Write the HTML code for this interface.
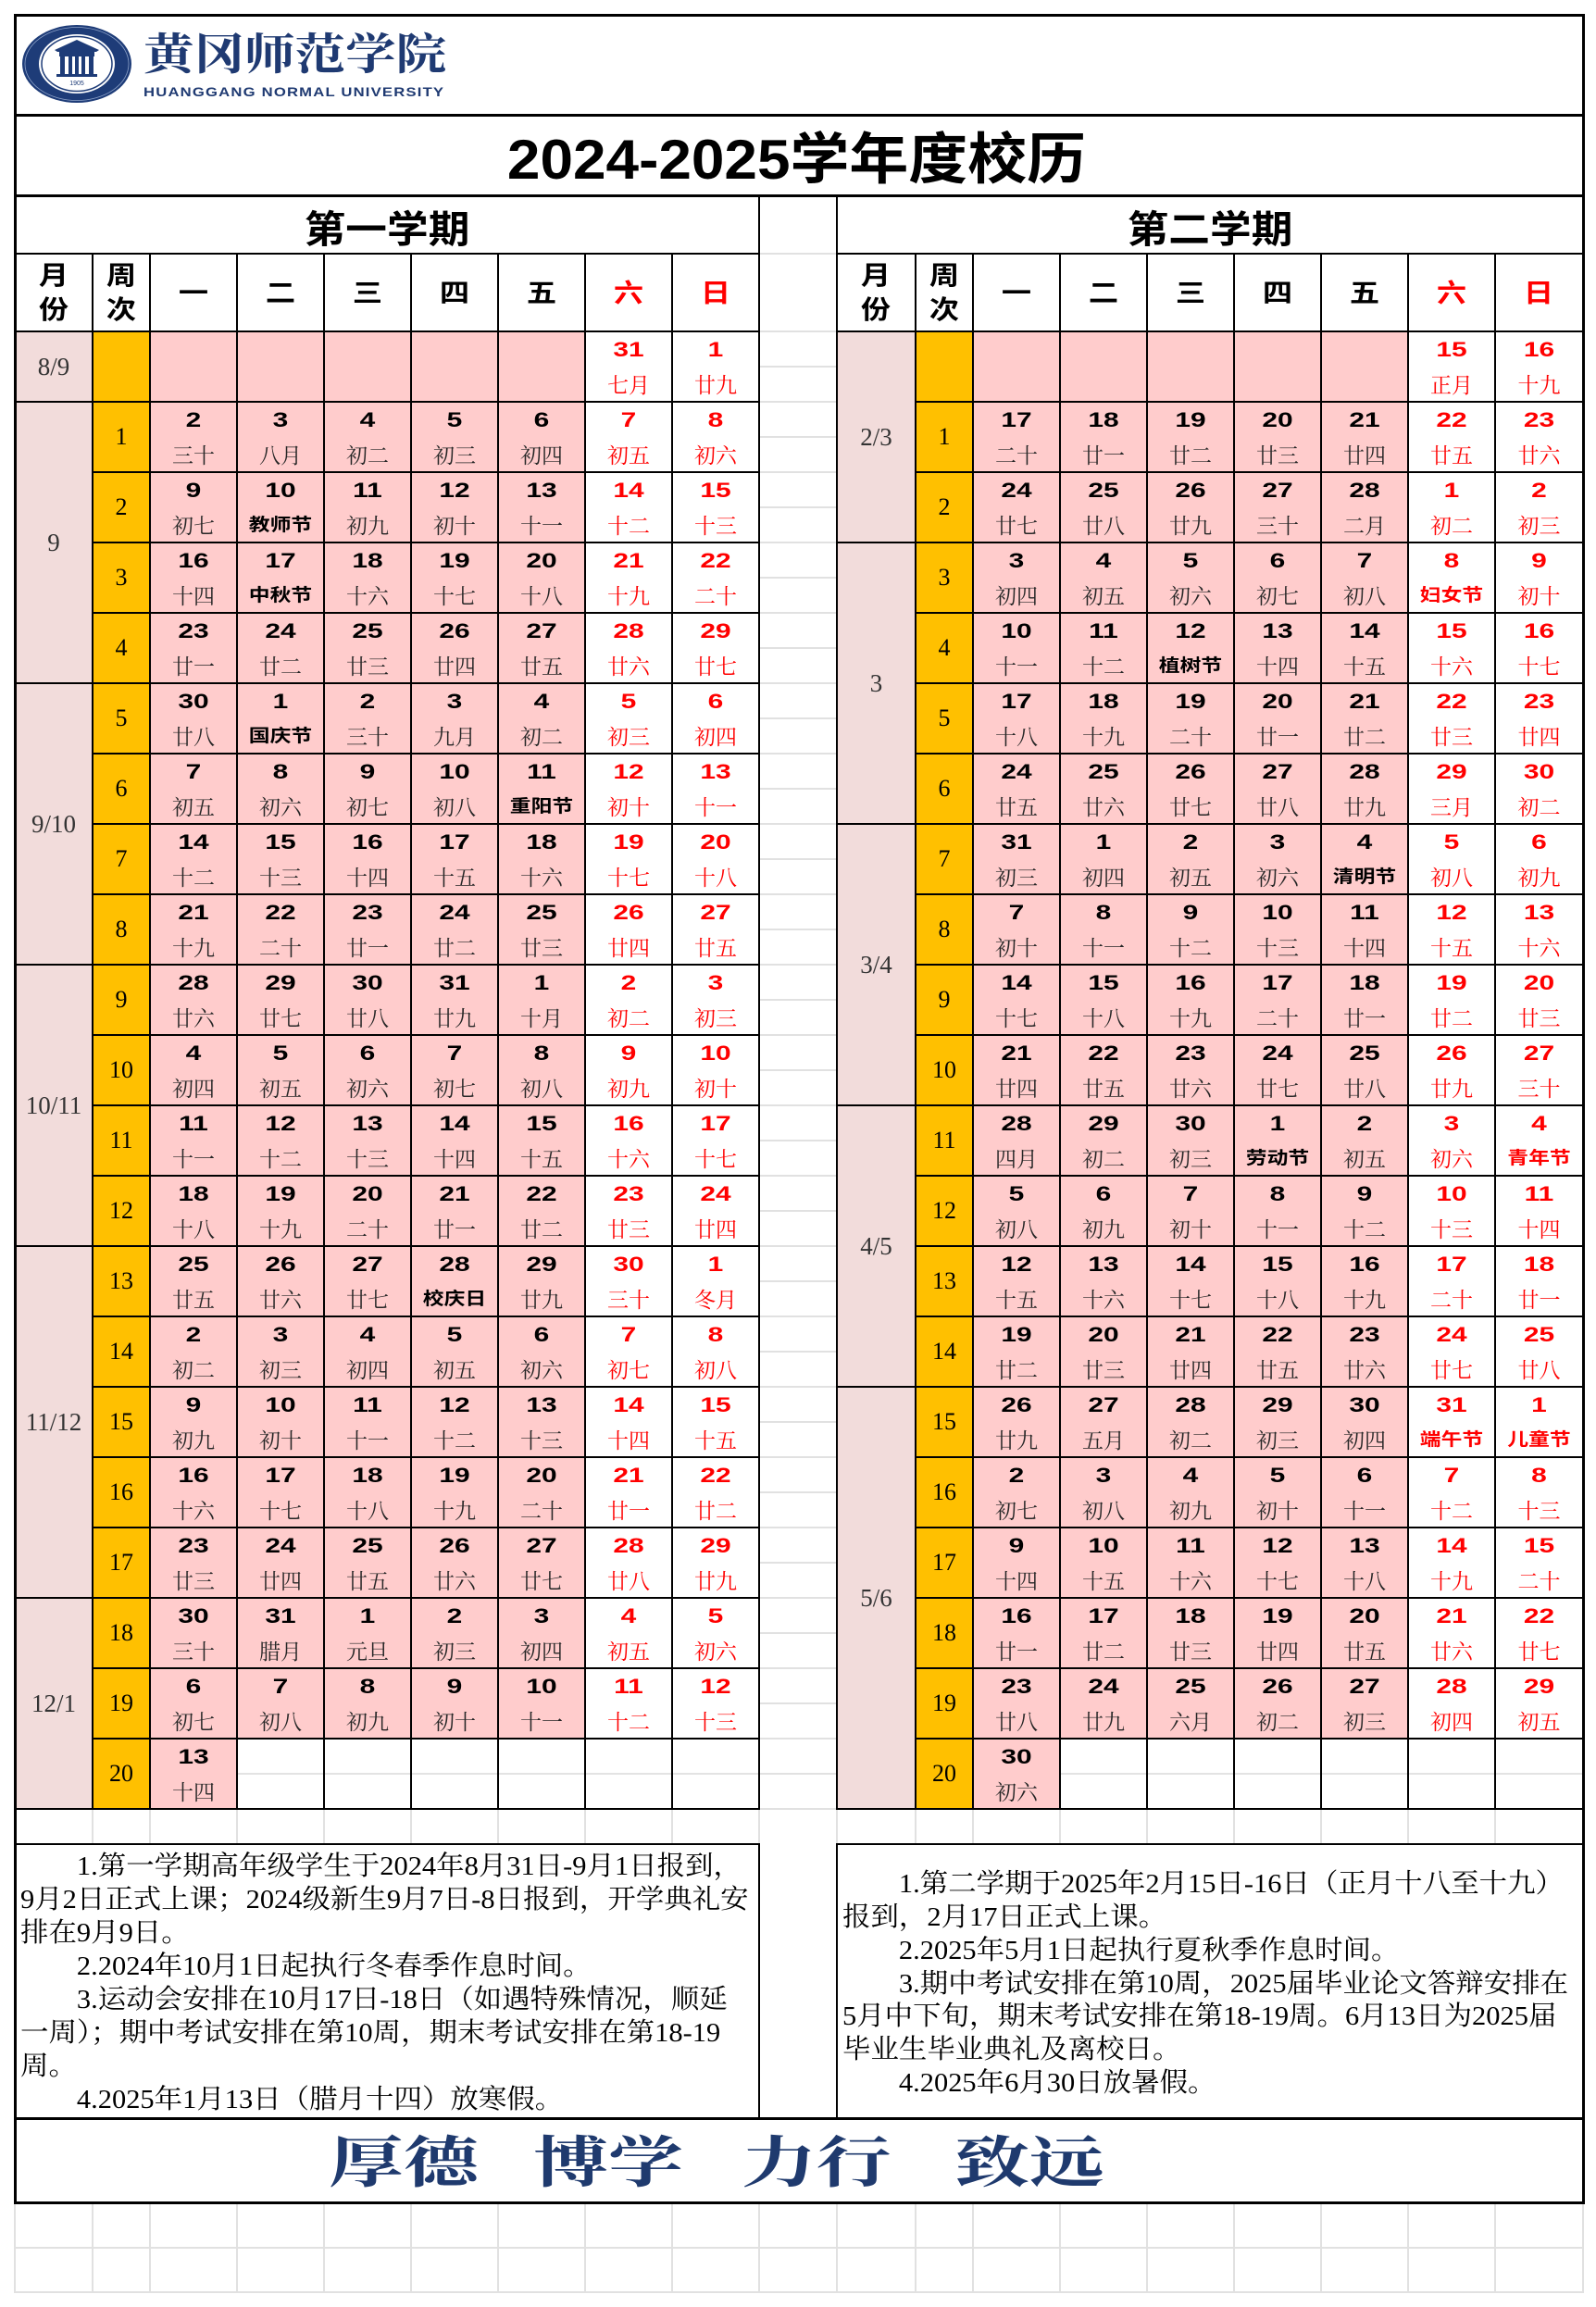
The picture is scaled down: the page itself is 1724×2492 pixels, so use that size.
<!DOCTYPE html>
<html><head><meta charset="utf-8">
<style>
*{margin:0;padding:0;box-sizing:border-box}
html,body{width:1724px;height:2492px;background:#fff;overflow:hidden}
body{position:relative;font-family:"Liberation Sans","Noto Sans CJK SC",sans-serif;color:#000}
.a{position:absolute;white-space:nowrap}
.k{position:absolute;background:#000}
.v{position:absolute;background:#e1e1e1}
.bx{position:absolute;border:2px solid #000}
.g{position:absolute;top:273px;display:grid;gap:2px;border:2px solid #000;background:#000;grid-template-rows:82px repeat(21,74px)}
.gl{left:15px;width:806px;grid-template-columns:82px 60px repeat(7,92px)}
.gr{left:903px;width:808px;grid-template-columns:83px 60px repeat(6,92px) 93px}
.g>div{background:#fff;position:relative}
.g>.p{background:#ffcccc}
.g>.e{background:linear-gradient(#fff 36px,#e3e3e3 36px,#e3e3e3 38px,#fff 38px)}
.g>.w{background:#ffc000;display:flex;align-items:center;justify-content:center;font:26px "Liberation Serif",serif}
.g>.m{background:#f2dcdb;grid-column:1;display:flex;align-items:center;justify-content:center;font:27px "Liberation Serif",serif;color:#333}
.g>.h{display:flex;align-items:center;justify-content:center;font:bold 28px/37px "Liberation Sans","Noto Sans CJK SC",sans-serif;text-align:center}
.h span{display:inline-block;transform:scaleX(1.15)}
.g>.hr{color:#f00}
.g b{position:absolute;left:0;right:0;top:6px;text-align:center;font:bold 22px/26px "Liberation Sans",sans-serif;transform:scaleX(1.36)}
.g i{position:absolute;left:0;right:0;top:45px;text-align:center;font:normal 23px/26px "Liberation Serif","Noto Serif CJK SC",serif;color:#262626}
.g i.f{top:44px;font:bold 19px/26px "Liberation Sans","Noto Sans CJK SC",sans-serif;color:#000;transform:scaleX(1.2)}
.g .r b,.g .r i{color:#f00}
.sem{position:absolute;top:227px;text-align:center;font:bold 41px/42px "Liberation Sans","Noto Sans CJK SC",sans-serif}
.sem span,.tt span,.mo span{display:inline-block}
.sem span{transform:scaleX(1.09)}
.n{position:absolute;white-space:nowrap;font:29px/36px "Liberation Serif","Noto Serif CJK SC",serif;transform:scaleX(1.05);transform-origin:0 50%}
.mo{position:absolute;top:2304px;width:220px;text-align:center;font:bold 60px/66px "Liberation Serif","Noto Serif CJK SC",serif;color:#1f3a6e}
.mo span{transform:scaleX(1.35)}
</style></head><body>

<!-- background gridlines -->
<div class="v" style="left:821px;top:273px;width:82px;height:2px"></div>
<div class="v" style="left:821px;top:357px;width:82px;height:1598px;background:repeating-linear-gradient(#e1e1e1 0 2px,transparent 2px 38px)"></div>
<div class="v" style="left:99px;top:1955px;width:2px;height:36px"></div>
<div class="v" style="left:161px;top:1955px;width:2px;height:36px"></div>
<div class="v" style="left:255px;top:1955px;width:2px;height:36px"></div>
<div class="v" style="left:349px;top:1955px;width:2px;height:36px"></div>
<div class="v" style="left:443px;top:1955px;width:2px;height:36px"></div>
<div class="v" style="left:537px;top:1955px;width:2px;height:36px"></div>
<div class="v" style="left:631px;top:1955px;width:2px;height:36px"></div>
<div class="v" style="left:725px;top:1955px;width:2px;height:36px"></div>
<div class="v" style="left:819px;top:1955px;width:2px;height:36px"></div>
<div class="v" style="left:903px;top:1955px;width:2px;height:36px"></div>
<div class="v" style="left:988px;top:1955px;width:2px;height:36px"></div>
<div class="v" style="left:1050px;top:1955px;width:2px;height:36px"></div>
<div class="v" style="left:1144px;top:1955px;width:2px;height:36px"></div>
<div class="v" style="left:1238px;top:1955px;width:2px;height:36px"></div>
<div class="v" style="left:1332px;top:1955px;width:2px;height:36px"></div>
<div class="v" style="left:1426px;top:1955px;width:2px;height:36px"></div>
<div class="v" style="left:1520px;top:1955px;width:2px;height:36px"></div>
<div class="v" style="left:1614px;top:1955px;width:2px;height:36px"></div>

<div class="v" style="left:15px;top:2427px;width:1696px;height:2px"></div>
<div class="v" style="left:15px;top:2475px;width:1696px;height:2px"></div>
<div class="v" style="left:15px;top:2381px;width:2px;height:96px"></div>
<div class="v" style="left:99px;top:2381px;width:2px;height:96px"></div>
<div class="v" style="left:161px;top:2381px;width:2px;height:96px"></div>
<div class="v" style="left:255px;top:2381px;width:2px;height:96px"></div>
<div class="v" style="left:349px;top:2381px;width:2px;height:96px"></div>
<div class="v" style="left:443px;top:2381px;width:2px;height:96px"></div>
<div class="v" style="left:537px;top:2381px;width:2px;height:96px"></div>
<div class="v" style="left:631px;top:2381px;width:2px;height:96px"></div>
<div class="v" style="left:725px;top:2381px;width:2px;height:96px"></div>
<div class="v" style="left:819px;top:2381px;width:2px;height:96px"></div>
<div class="v" style="left:903px;top:2381px;width:2px;height:96px"></div>
<div class="v" style="left:988px;top:2381px;width:2px;height:96px"></div>
<div class="v" style="left:1050px;top:2381px;width:2px;height:96px"></div>
<div class="v" style="left:1144px;top:2381px;width:2px;height:96px"></div>
<div class="v" style="left:1238px;top:2381px;width:2px;height:96px"></div>
<div class="v" style="left:1332px;top:2381px;width:2px;height:96px"></div>
<div class="v" style="left:1426px;top:2381px;width:2px;height:96px"></div>
<div class="v" style="left:1520px;top:2381px;width:2px;height:96px"></div>
<div class="v" style="left:1614px;top:2381px;width:2px;height:96px"></div>
<div class="v" style="left:1709px;top:2381px;width:2px;height:96px"></div>

<!-- logo -->
<svg class="a" style="left:22px;top:25px" width="122" height="88" viewBox="0 0 122 88">
<ellipse cx="61" cy="44" rx="59" ry="42" fill="#1e3c78"/>
<ellipse cx="61" cy="44" rx="56" ry="39.5" fill="none" stroke="#8da2c8" stroke-width="0.8"/>
<ellipse cx="61" cy="44" rx="41" ry="32" fill="#fff"/>
<ellipse cx="61" cy="44" rx="38" ry="29.5" fill="none" stroke="#1e3c78" stroke-width="1.5"/>
<path d="M37 29 L61 18 L85 29 L82 31 L40 31Z" fill="#1e3c78"/>
<rect x="42" y="31" width="38" height="5" fill="#1e3c78"/>
<rect x="43" y="36" width="5" height="20" fill="#1e3c78"/>
<rect x="52" y="36" width="4" height="20" fill="#1e3c78"/>
<rect x="59" y="36" width="4" height="20" fill="#1e3c78"/>
<rect x="66" y="36" width="4" height="20" fill="#1e3c78"/>
<rect x="74" y="36" width="5" height="20" fill="#1e3c78"/>
<rect x="39" y="55" width="44" height="3" fill="#1e3c78"/>
<text x="61" y="67" font-size="7" text-anchor="middle" fill="#1e3c78" font-family="Liberation Sans">1905</text>
</svg>
<div class="a" style="left:155px;top:35px;font:bold 47px/50px 'Liberation Serif','Noto Serif CJK SC',serif;color:#1f3a72;transform:scaleX(1.16);transform-origin:0 50%">黄冈师范学院</div>
<div class="a" style="left:155px;top:91px;font:bold 14px/16px 'Liberation Sans',sans-serif;letter-spacing:1px;color:#1f3a72;transform:scaleX(1.19);transform-origin:0 50%">HUANGGANG NORMAL UNIVERSITY</div>

<!-- title -->
<div class="a tt" style="left:0;width:1720px;top:143px;text-align:center;font:bold 60px/60px 'Liberation Sans','Noto Sans CJK SC',sans-serif"><span style="transform:scaleX(1.065)">2024-2025学年度校历</span></div>

<div class="sem" style="left:16px;width:804px"><span>第一学期</span></div>
<div class="sem" style="left:904px;width:806px"><span>第二学期</span></div>

<!-- left table -->
<div class="g gl">
<div class="m" style="grid-row:2">8/9</div>
<div class="m" style="grid-row:3/7">9</div>
<div class="m" style="grid-row:7/11">9/10</div>
<div class="m" style="grid-row:11/15">10/11</div>
<div class="m" style="grid-row:15/20">11/12</div>
<div class="m" style="grid-row:20/23">12/1</div>
<div class="h"><span>月<br>份</span></div><div class="h"><span>周<br>次</span></div><div class="h"><span>一</span></div><div class="h"><span>二</span></div><div class="h"><span>三</span></div><div class="h"><span>四</span></div><div class="h"><span>五</span></div><div class="h hr"><span>六</span></div><div class="h hr"><span>日</span></div>
<div class="w"></div><div class="p"></div><div class="p"></div><div class="p"></div><div class="p"></div><div class="p"></div><div class="r"><b>31</b><i>七月</i></div><div class="r"><b>1</b><i>廿九</i></div>
<div class="w">1</div><div class="p"><b>2</b><i>三十</i></div><div class="p"><b>3</b><i>八月</i></div><div class="p"><b>4</b><i>初二</i></div><div class="p"><b>5</b><i>初三</i></div><div class="p"><b>6</b><i>初四</i></div><div class="r"><b>7</b><i>初五</i></div><div class="r"><b>8</b><i>初六</i></div>
<div class="w">2</div><div class="p"><b>9</b><i>初七</i></div><div class="p"><b>10</b><i class="f">教师节</i></div><div class="p"><b>11</b><i>初九</i></div><div class="p"><b>12</b><i>初十</i></div><div class="p"><b>13</b><i>十一</i></div><div class="r"><b>14</b><i>十二</i></div><div class="r"><b>15</b><i>十三</i></div>
<div class="w">3</div><div class="p"><b>16</b><i>十四</i></div><div class="p"><b>17</b><i class="f">中秋节</i></div><div class="p"><b>18</b><i>十六</i></div><div class="p"><b>19</b><i>十七</i></div><div class="p"><b>20</b><i>十八</i></div><div class="r"><b>21</b><i>十九</i></div><div class="r"><b>22</b><i>二十</i></div>
<div class="w">4</div><div class="p"><b>23</b><i>廿一</i></div><div class="p"><b>24</b><i>廿二</i></div><div class="p"><b>25</b><i>廿三</i></div><div class="p"><b>26</b><i>廿四</i></div><div class="p"><b>27</b><i>廿五</i></div><div class="r"><b>28</b><i>廿六</i></div><div class="r"><b>29</b><i>廿七</i></div>
<div class="w">5</div><div class="p"><b>30</b><i>廿八</i></div><div class="p"><b>1</b><i class="f">国庆节</i></div><div class="p"><b>2</b><i>三十</i></div><div class="p"><b>3</b><i>九月</i></div><div class="p"><b>4</b><i>初二</i></div><div class="r"><b>5</b><i>初三</i></div><div class="r"><b>6</b><i>初四</i></div>
<div class="w">6</div><div class="p"><b>7</b><i>初五</i></div><div class="p"><b>8</b><i>初六</i></div><div class="p"><b>9</b><i>初七</i></div><div class="p"><b>10</b><i>初八</i></div><div class="p"><b>11</b><i class="f">重阳节</i></div><div class="r"><b>12</b><i>初十</i></div><div class="r"><b>13</b><i>十一</i></div>
<div class="w">7</div><div class="p"><b>14</b><i>十二</i></div><div class="p"><b>15</b><i>十三</i></div><div class="p"><b>16</b><i>十四</i></div><div class="p"><b>17</b><i>十五</i></div><div class="p"><b>18</b><i>十六</i></div><div class="r"><b>19</b><i>十七</i></div><div class="r"><b>20</b><i>十八</i></div>
<div class="w">8</div><div class="p"><b>21</b><i>十九</i></div><div class="p"><b>22</b><i>二十</i></div><div class="p"><b>23</b><i>廿一</i></div><div class="p"><b>24</b><i>廿二</i></div><div class="p"><b>25</b><i>廿三</i></div><div class="r"><b>26</b><i>廿四</i></div><div class="r"><b>27</b><i>廿五</i></div>
<div class="w">9</div><div class="p"><b>28</b><i>廿六</i></div><div class="p"><b>29</b><i>廿七</i></div><div class="p"><b>30</b><i>廿八</i></div><div class="p"><b>31</b><i>廿九</i></div><div class="p"><b>1</b><i>十月</i></div><div class="r"><b>2</b><i>初二</i></div><div class="r"><b>3</b><i>初三</i></div>
<div class="w">10</div><div class="p"><b>4</b><i>初四</i></div><div class="p"><b>5</b><i>初五</i></div><div class="p"><b>6</b><i>初六</i></div><div class="p"><b>7</b><i>初七</i></div><div class="p"><b>8</b><i>初八</i></div><div class="r"><b>9</b><i>初九</i></div><div class="r"><b>10</b><i>初十</i></div>
<div class="w">11</div><div class="p"><b>11</b><i>十一</i></div><div class="p"><b>12</b><i>十二</i></div><div class="p"><b>13</b><i>十三</i></div><div class="p"><b>14</b><i>十四</i></div><div class="p"><b>15</b><i>十五</i></div><div class="r"><b>16</b><i>十六</i></div><div class="r"><b>17</b><i>十七</i></div>
<div class="w">12</div><div class="p"><b>18</b><i>十八</i></div><div class="p"><b>19</b><i>十九</i></div><div class="p"><b>20</b><i>二十</i></div><div class="p"><b>21</b><i>廿一</i></div><div class="p"><b>22</b><i>廿二</i></div><div class="r"><b>23</b><i>廿三</i></div><div class="r"><b>24</b><i>廿四</i></div>
<div class="w">13</div><div class="p"><b>25</b><i>廿五</i></div><div class="p"><b>26</b><i>廿六</i></div><div class="p"><b>27</b><i>廿七</i></div><div class="p"><b>28</b><i class="f">校庆日</i></div><div class="p"><b>29</b><i>廿九</i></div><div class="r"><b>30</b><i>三十</i></div><div class="r"><b>1</b><i>冬月</i></div>
<div class="w">14</div><div class="p"><b>2</b><i>初二</i></div><div class="p"><b>3</b><i>初三</i></div><div class="p"><b>4</b><i>初四</i></div><div class="p"><b>5</b><i>初五</i></div><div class="p"><b>6</b><i>初六</i></div><div class="r"><b>7</b><i>初七</i></div><div class="r"><b>8</b><i>初八</i></div>
<div class="w">15</div><div class="p"><b>9</b><i>初九</i></div><div class="p"><b>10</b><i>初十</i></div><div class="p"><b>11</b><i>十一</i></div><div class="p"><b>12</b><i>十二</i></div><div class="p"><b>13</b><i>十三</i></div><div class="r"><b>14</b><i>十四</i></div><div class="r"><b>15</b><i>十五</i></div>
<div class="w">16</div><div class="p"><b>16</b><i>十六</i></div><div class="p"><b>17</b><i>十七</i></div><div class="p"><b>18</b><i>十八</i></div><div class="p"><b>19</b><i>十九</i></div><div class="p"><b>20</b><i>二十</i></div><div class="r"><b>21</b><i>廿一</i></div><div class="r"><b>22</b><i>廿二</i></div>
<div class="w">17</div><div class="p"><b>23</b><i>廿三</i></div><div class="p"><b>24</b><i>廿四</i></div><div class="p"><b>25</b><i>廿五</i></div><div class="p"><b>26</b><i>廿六</i></div><div class="p"><b>27</b><i>廿七</i></div><div class="r"><b>28</b><i>廿八</i></div><div class="r"><b>29</b><i>廿九</i></div>
<div class="w">18</div><div class="p"><b>30</b><i>三十</i></div><div class="p"><b>31</b><i>腊月</i></div><div class="p"><b>1</b><i>元旦</i></div><div class="p"><b>2</b><i>初三</i></div><div class="p"><b>3</b><i>初四</i></div><div class="r"><b>4</b><i>初五</i></div><div class="r"><b>5</b><i>初六</i></div>
<div class="w">19</div><div class="p"><b>6</b><i>初七</i></div><div class="p"><b>7</b><i>初八</i></div><div class="p"><b>8</b><i>初九</i></div><div class="p"><b>9</b><i>初十</i></div><div class="p"><b>10</b><i>十一</i></div><div class="r"><b>11</b><i>十二</i></div><div class="r"><b>12</b><i>十三</i></div>
<div class="w">20</div><div class="p"><b>13</b><i>十四</i></div><div class="e"></div><div class="e"></div><div class="e"></div><div class="e"></div><div class="e"></div><div class="e"></div>
</div>

<!-- right table -->
<div class="g gr">
<div class="m" style="grid-row:2/5">2/3</div>
<div class="m" style="grid-row:5/9">3</div>
<div class="m" style="grid-row:9/13">3/4</div>
<div class="m" style="grid-row:13/17">4/5</div>
<div class="m" style="grid-row:17/23">5/6</div>
<div class="h"><span>月<br>份</span></div><div class="h"><span>周<br>次</span></div><div class="h"><span>一</span></div><div class="h"><span>二</span></div><div class="h"><span>三</span></div><div class="h"><span>四</span></div><div class="h"><span>五</span></div><div class="h hr"><span>六</span></div><div class="h hr"><span>日</span></div>
<div class="w"></div><div class="p"></div><div class="p"></div><div class="p"></div><div class="p"></div><div class="p"></div><div class="r"><b>15</b><i>正月</i></div><div class="r"><b>16</b><i>十九</i></div>
<div class="w">1</div><div class="p"><b>17</b><i>二十</i></div><div class="p"><b>18</b><i>廿一</i></div><div class="p"><b>19</b><i>廿二</i></div><div class="p"><b>20</b><i>廿三</i></div><div class="p"><b>21</b><i>廿四</i></div><div class="r"><b>22</b><i>廿五</i></div><div class="r"><b>23</b><i>廿六</i></div>
<div class="w">2</div><div class="p"><b>24</b><i>廿七</i></div><div class="p"><b>25</b><i>廿八</i></div><div class="p"><b>26</b><i>廿九</i></div><div class="p"><b>27</b><i>三十</i></div><div class="p"><b>28</b><i>二月</i></div><div class="r"><b>1</b><i>初二</i></div><div class="r"><b>2</b><i>初三</i></div>
<div class="w">3</div><div class="p"><b>3</b><i>初四</i></div><div class="p"><b>4</b><i>初五</i></div><div class="p"><b>5</b><i>初六</i></div><div class="p"><b>6</b><i>初七</i></div><div class="p"><b>7</b><i>初八</i></div><div class="r"><b>8</b><i class="f">妇女节</i></div><div class="r"><b>9</b><i>初十</i></div>
<div class="w">4</div><div class="p"><b>10</b><i>十一</i></div><div class="p"><b>11</b><i>十二</i></div><div class="p"><b>12</b><i class="f">植树节</i></div><div class="p"><b>13</b><i>十四</i></div><div class="p"><b>14</b><i>十五</i></div><div class="r"><b>15</b><i>十六</i></div><div class="r"><b>16</b><i>十七</i></div>
<div class="w">5</div><div class="p"><b>17</b><i>十八</i></div><div class="p"><b>18</b><i>十九</i></div><div class="p"><b>19</b><i>二十</i></div><div class="p"><b>20</b><i>廿一</i></div><div class="p"><b>21</b><i>廿二</i></div><div class="r"><b>22</b><i>廿三</i></div><div class="r"><b>23</b><i>廿四</i></div>
<div class="w">6</div><div class="p"><b>24</b><i>廿五</i></div><div class="p"><b>25</b><i>廿六</i></div><div class="p"><b>26</b><i>廿七</i></div><div class="p"><b>27</b><i>廿八</i></div><div class="p"><b>28</b><i>廿九</i></div><div class="r"><b>29</b><i>三月</i></div><div class="r"><b>30</b><i>初二</i></div>
<div class="w">7</div><div class="p"><b>31</b><i>初三</i></div><div class="p"><b>1</b><i>初四</i></div><div class="p"><b>2</b><i>初五</i></div><div class="p"><b>3</b><i>初六</i></div><div class="p"><b>4</b><i class="f">清明节</i></div><div class="r"><b>5</b><i>初八</i></div><div class="r"><b>6</b><i>初九</i></div>
<div class="w">8</div><div class="p"><b>7</b><i>初十</i></div><div class="p"><b>8</b><i>十一</i></div><div class="p"><b>9</b><i>十二</i></div><div class="p"><b>10</b><i>十三</i></div><div class="p"><b>11</b><i>十四</i></div><div class="r"><b>12</b><i>十五</i></div><div class="r"><b>13</b><i>十六</i></div>
<div class="w">9</div><div class="p"><b>14</b><i>十七</i></div><div class="p"><b>15</b><i>十八</i></div><div class="p"><b>16</b><i>十九</i></div><div class="p"><b>17</b><i>二十</i></div><div class="p"><b>18</b><i>廿一</i></div><div class="r"><b>19</b><i>廿二</i></div><div class="r"><b>20</b><i>廿三</i></div>
<div class="w">10</div><div class="p"><b>21</b><i>廿四</i></div><div class="p"><b>22</b><i>廿五</i></div><div class="p"><b>23</b><i>廿六</i></div><div class="p"><b>24</b><i>廿七</i></div><div class="p"><b>25</b><i>廿八</i></div><div class="r"><b>26</b><i>廿九</i></div><div class="r"><b>27</b><i>三十</i></div>
<div class="w">11</div><div class="p"><b>28</b><i>四月</i></div><div class="p"><b>29</b><i>初二</i></div><div class="p"><b>30</b><i>初三</i></div><div class="p"><b>1</b><i class="f">劳动节</i></div><div class="p"><b>2</b><i>初五</i></div><div class="r"><b>3</b><i>初六</i></div><div class="r"><b>4</b><i class="f">青年节</i></div>
<div class="w">12</div><div class="p"><b>5</b><i>初八</i></div><div class="p"><b>6</b><i>初九</i></div><div class="p"><b>7</b><i>初十</i></div><div class="p"><b>8</b><i>十一</i></div><div class="p"><b>9</b><i>十二</i></div><div class="r"><b>10</b><i>十三</i></div><div class="r"><b>11</b><i>十四</i></div>
<div class="w">13</div><div class="p"><b>12</b><i>十五</i></div><div class="p"><b>13</b><i>十六</i></div><div class="p"><b>14</b><i>十七</i></div><div class="p"><b>15</b><i>十八</i></div><div class="p"><b>16</b><i>十九</i></div><div class="r"><b>17</b><i>二十</i></div><div class="r"><b>18</b><i>廿一</i></div>
<div class="w">14</div><div class="p"><b>19</b><i>廿二</i></div><div class="p"><b>20</b><i>廿三</i></div><div class="p"><b>21</b><i>廿四</i></div><div class="p"><b>22</b><i>廿五</i></div><div class="p"><b>23</b><i>廿六</i></div><div class="r"><b>24</b><i>廿七</i></div><div class="r"><b>25</b><i>廿八</i></div>
<div class="w">15</div><div class="p"><b>26</b><i>廿九</i></div><div class="p"><b>27</b><i>五月</i></div><div class="p"><b>28</b><i>初二</i></div><div class="p"><b>29</b><i>初三</i></div><div class="p"><b>30</b><i>初四</i></div><div class="r"><b>31</b><i class="f">端午节</i></div><div class="r"><b>1</b><i class="f">儿童节</i></div>
<div class="w">16</div><div class="p"><b>2</b><i>初七</i></div><div class="p"><b>3</b><i>初八</i></div><div class="p"><b>4</b><i>初九</i></div><div class="p"><b>5</b><i>初十</i></div><div class="p"><b>6</b><i>十一</i></div><div class="r"><b>7</b><i>十二</i></div><div class="r"><b>8</b><i>十三</i></div>
<div class="w">17</div><div class="p"><b>9</b><i>十四</i></div><div class="p"><b>10</b><i>十五</i></div><div class="p"><b>11</b><i>十六</i></div><div class="p"><b>12</b><i>十七</i></div><div class="p"><b>13</b><i>十八</i></div><div class="r"><b>14</b><i>十九</i></div><div class="r"><b>15</b><i>二十</i></div>
<div class="w">18</div><div class="p"><b>16</b><i>廿一</i></div><div class="p"><b>17</b><i>廿二</i></div><div class="p"><b>18</b><i>廿三</i></div><div class="p"><b>19</b><i>廿四</i></div><div class="p"><b>20</b><i>廿五</i></div><div class="r"><b>21</b><i>廿六</i></div><div class="r"><b>22</b><i>廿七</i></div>
<div class="w">19</div><div class="p"><b>23</b><i>廿八</i></div><div class="p"><b>24</b><i>廿九</i></div><div class="p"><b>25</b><i>六月</i></div><div class="p"><b>26</b><i>初二</i></div><div class="p"><b>27</b><i>初三</i></div><div class="r"><b>28</b><i>初四</i></div><div class="r"><b>29</b><i>初五</i></div>
<div class="w">20</div><div class="p"><b>30</b><i>初六</i></div><div class="e"></div><div class="e"></div><div class="e"></div><div class="e"></div><div class="e"></div><div class="e"></div>
</div>

<!-- notes -->
<div class="bx" style="left:15px;top:1991px;width:806px;height:298px"></div>
<div class="bx" style="left:903px;top:1991px;width:808px;height:298px"></div>
<div class="n" style="left:22px;top:1998px">　　1.第一学期高年级学生于2024年8月31日-9月1日报到，</div>
<div class="n" style="left:22px;top:2034px">9月2日正式上课；2024级新生9月7日-8日报到，开学典礼安</div>
<div class="n" style="left:22px;top:2070px">排在9月9日。</div>
<div class="n" style="left:22px;top:2106px">　　2.2024年10月1日起执行冬春季作息时间。</div>
<div class="n" style="left:22px;top:2142px">　　3.运动会安排在10月17日-18日（如遇特殊情况，顺延</div>
<div class="n" style="left:22px;top:2178px">一周）；期中考试安排在第10周，期末考试安排在第18-19</div>
<div class="n" style="left:22px;top:2214px">周。</div>
<div class="n" style="left:22px;top:2250px">　　4.2025年1月13日（腊月十四）放寒假。</div>

<div class="n" style="left:910px;top:2017px">　　1.第二学期于2025年2月15日-16日（正月十八至十九）</div>
<div class="n" style="left:910px;top:2053px">报到，2月17日正式上课。</div>
<div class="n" style="left:910px;top:2089px">　　2.2025年5月1日起执行夏秋季作息时间。</div>
<div class="n" style="left:910px;top:2125px">　　3.期中考试安排在第10周，2025届毕业论文答辩安排在</div>
<div class="n" style="left:910px;top:2160px">5月中下旬，期末考试安排在第18-19周。6月13日为2025届</div>
<div class="n" style="left:910px;top:2196px">毕业生毕业典礼及离校日。</div>
<div class="n" style="left:910px;top:2232px">　　4.2025年6月30日放暑假。</div>

<!-- motto -->
<div class="mo" style="left:326px"><span>厚德</span></div>
<div class="mo" style="left:547px"><span>博学</span></div>
<div class="mo" style="left:772px"><span>力行</span></div>
<div class="mo" style="left:1002px"><span>致远</span></div>

<!-- frame lines -->
<div class="k" style="left:15px;top:15px;width:1697px;height:3px"></div>
<div class="k" style="left:15px;top:15px;width:3px;height:2366px"></div>
<div class="k" style="left:1709px;top:15px;width:3px;height:2366px"></div>
<div class="k" style="left:15px;top:123px;width:1697px;height:3px"></div>
<div class="k" style="left:15px;top:210px;width:1697px;height:3px"></div>
<div class="k" style="left:819px;top:212px;width:2px;height:62px"></div>
<div class="k" style="left:903px;top:212px;width:2px;height:62px"></div>
<div class="k" style="left:15px;top:2287px;width:1697px;height:3px"></div>
<div class="k" style="left:15px;top:2378px;width:1697px;height:3px"></div>
</body></html>
